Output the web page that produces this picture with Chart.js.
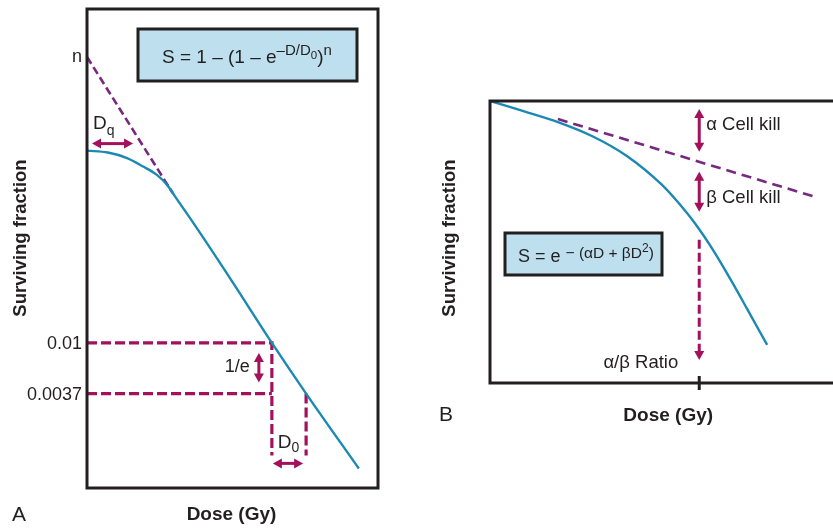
<!DOCTYPE html>
<html>
<head>
<meta charset="utf-8">
<script src="https://cdn.jsdelivr.net/npm/chart.js@4.4.1/dist/chart.umd.min.js"></script>
<style>
html, body { margin: 0; padding: 0; background: #fff; overflow: hidden; }
#wrap { position: relative; width: 833px; height: 529px; }
canvas { position: absolute; left: 0; top: 0; }
</style>
</head>
<body>
<div id="wrap">
  <canvas id="cellA" width="833" height="529"></canvas>
  <canvas id="cellB" width="833" height="529"></canvas>
</div>
<script>
// --- Panel A: multi-target model, surviving fraction (log) vs dose ---
const doseA = [0, 0.61, 1.17, 1.64, 2.04, 2.34, 2.57, 3.07, 4.2, 5.4, 6.4, 7.94];
const survA = [0.435, 0.419, 0.376, 0.318, 0.27, 0.222, 0.177, 0.109, 0.0348, 0.01, 0.0037, 0.00085];
// straight part extrapolated back to the axis (intercept = n)
const extrapDose = [0, 2.5];
const extrapSurv = [2.73, 0.19];
// 0.01 -> 0.0037 is a drop of 1/e, one D0 apart
const refSurv = [0.01, 0.0037];
const refDose = [5.4, 6.4];
const refFloor = 0.0011;
const tickLabelsA = ['0.01', '0.0037'];
const dq = 1.2;

// --- Panel B: linear-quadratic model, ln S vs dose ---
const doseB = [0, 1, 2, 3, 4, 5, 5.5, 6, 6.5, 7, 7.5, 8.08];
const lnSurvB = [0, -0.37, -0.76, -1.26, -1.96, -2.96, -3.62, -4.38, -5.28, -6.30, -7.38, -8.65];
const alphaDose = [1.98, 9.48];
const alphaLn = [-0.64, -3.40];
const abRatio = 6.1;

const FONT = "'Liberation Sans', Arial, Helvetica, sans-serif";
const BLUE = '#1c89b3';
const CRIMSON = '#a3105c';
const PURPLE = '#76297f';
const INK = '#231f20';
const BOXFILL = '#bddfee';

const pts = (xs, ys) => xs.map((x, i) => ({ x, y: ys[i] }));

function richText(ctx, x, y, parts) {
    let cx = x;
    parts.forEach(([t, size, rise]) => {
        ctx.font = size + 'px ' + FONT;
        ctx.fillText(t, cx, y - rise);
        cx += ctx.measureText(t).width;
    });
}

function head(ctx, x, y, ang) {
    const len = 9, half = 5;
    ctx.beginPath();
    ctx.moveTo(x, y);
    ctx.lineTo(x - len * Math.cos(ang) + half * Math.sin(ang), y - len * Math.sin(ang) - half * Math.cos(ang));
    ctx.lineTo(x - len * Math.cos(ang) - half * Math.sin(ang), y - len * Math.sin(ang) + half * Math.cos(ang));
    ctx.closePath();
    ctx.fill();
}

function arrow(ctx, x1, y1, x2, y2, both, dash) {
    const ang = Math.atan2(y2 - y1, x2 - x1);
    const c = Math.cos(ang), s = Math.sin(ang);
    ctx.save();
    ctx.strokeStyle = CRIMSON;
    ctx.fillStyle = CRIMSON;
    ctx.lineWidth = 3;
    ctx.setLineDash(dash || []);
    ctx.beginPath();
    ctx.moveTo(both ? x1 + c * 6 : x1, both ? y1 + s * 6 : y1);
    ctx.lineTo(x2 - c * 6, y2 - s * 6);
    ctx.stroke();
    ctx.setLineDash([]);
    head(ctx, x2, y2, ang);
    if (both) head(ctx, x1, y1, ang + Math.PI);
    ctx.restore();
}

function formulaBox(ctx, x, y, w, h) {
    ctx.fillStyle = BOXFILL;
    ctx.fillRect(x, y, w, h);
    ctx.strokeStyle = INK;
    ctx.lineWidth = 3;
    ctx.strokeRect(x, y, w, h);
}

function sideTitle(ctx, text, x, y) {
    ctx.save();
    ctx.translate(x, y);
    ctx.rotate(-Math.PI / 2);
    ctx.font = 'bold 18.5px ' + FONT;
    ctx.textAlign = 'center';
    ctx.fillStyle = INK;
    ctx.fillText(text, 0, 0);
    ctx.restore();
}

const baseOptions = (pad, xs, ys) => ({
    responsive: false,
    animation: false,
    devicePixelRatio: 1,
    layout: { padding: pad },
    plugins: { legend: { display: false }, tooltip: { enabled: false } },
    elements: { point: { radius: 0, hoverRadius: 0 } },
    scales: { x: xs, y: ys }
});

// ─── Panel A annotations ───
const annotateA = {
    id: 'annotateA',
    afterDraw(chart) {
        const { ctx, chartArea: a, scales: { x, y } } = chart;
        ctx.save();
        ctx.strokeStyle = INK;
        ctx.lineWidth = 3;
        ctx.strokeRect(a.left, a.top, a.right - a.left, a.bottom - a.top);

        formulaBox(ctx, a.left + 51, a.top + 20, 219, 52);
        ctx.fillStyle = INK;
        ctx.textAlign = 'left';
        richText(ctx, a.left + 75, a.top + 54, [
            ['S = 1 \u2013 (1 \u2013 e', 19, 0], ['\u2013D/D', 15, 8], ['0', 11.5, 4], [')', 19, 0], ['n', 15, 8]
        ]);

        // n intercept
        ctx.font = '18px ' + FONT;
        ctx.textAlign = 'right';
        ctx.fillText('n', x.getPixelForValue(0) - 5, y.getPixelForValue(extrapSurv[0]) + 5);

        // tick labels on the log axis
        tickLabelsA.forEach((t, i) => {
            ctx.fillText(t, a.left - 5, y.getPixelForValue(refSurv[i]) + 6);
        });

        // Dq
        const yDq = y.getPixelForValue(survA[0]) - 7;
        arrow(ctx, x.getPixelForValue(0) + 5, yDq, x.getPixelForValue(dq) + 5, yDq, true);
        ctx.fillStyle = INK;
        ctx.textAlign = 'left';
        richText(ctx, a.left + 6, yDq - 15, [['D', 19, 0], ['q', 14, -6]]);

        // 1/e
        const xE = x.getPixelForValue(refDose[0]) - 13;
        arrow(ctx, xE, y.getPixelForValue(refSurv[0]) + 10, xE, y.getPixelForValue(refSurv[1]) - 11, true);
        ctx.fillStyle = INK;
        ctx.font = '18px ' + FONT;
        ctx.textAlign = 'right';
        ctx.fillText('1/e', xE - 9, y.getPixelForValue(refSurv[0]) + 29);

        // D0
        const yD0 = y.getPixelForValue(refFloor) + 8;
        arrow(ctx, x.getPixelForValue(refDose[0]) + 1, yD0, x.getPixelForValue(refDose[1]) - 3, yD0, true);
        ctx.fillStyle = INK;
        ctx.textAlign = 'left';
        richText(ctx, x.getPixelForValue(refDose[0]) + 6, yD0 - 15, [['D', 19, 0], ['0', 14, -4]]);

        // titles
        sideTitle(ctx, 'Surviving fraction', 26, 238);
        ctx.fillStyle = INK;
        ctx.font = 'bold 19px ' + FONT;
        ctx.textAlign = 'center';
        ctx.fillText('Dose (Gy)', (a.left + a.right) / 2 - 1, 520);
        ctx.font = '21px ' + FONT;
        ctx.textAlign = 'left';
        ctx.fillText('A', 12, 521);
        ctx.restore();
    }
};

new Chart(document.getElementById('cellA'), {
    type: 'line',
    data: {
        datasets: [
            { data: pts(doseA, survA), borderColor: BLUE, borderWidth: 2.4, cubicInterpolationMode: 'monotone' },
            { data: pts(extrapDose, extrapSurv), borderColor: PURPLE, borderWidth: 2.6, borderDash: [8, 4] },
            { data: pts([0, refDose[0], refDose[0]], [refSurv[0], refSurv[0], refFloor]), borderColor: CRIMSON, borderWidth: 3.2, borderDash: [10, 4] },
            { data: pts([0, refDose[0]], [refSurv[1], refSurv[1]]), borderColor: CRIMSON, borderWidth: 3.2, borderDash: [10, 4] },
            { data: pts([refDose[1], refDose[1]], [refSurv[1], refFloor]), borderColor: CRIMSON, borderWidth: 3.2, borderDash: [10, 4] }
        ]
    },
    options: baseOptions(
        { left: 87, top: 9, right: 455, bottom: 41 },
        { type: 'linear', display: false, min: 0, max: 8.5 },
        { type: 'logarithmic', display: false, min: 0.00058, max: 7.0 }
    ),
    plugins: [annotateA]
});

// ─── Panel B annotations ───
const annotateB = {
    id: 'annotateB',
    afterDraw(chart) {
        const { ctx, chartArea: a, scales: { x, y } } = chart;
        ctx.save();
        ctx.strokeStyle = INK;
        ctx.lineWidth = 3;
        ctx.beginPath();
        ctx.moveTo(a.right + 2, a.top);
        ctx.lineTo(a.left, a.top);
        ctx.lineTo(a.left, a.bottom);
        ctx.lineTo(a.right + 2, a.bottom);
        ctx.stroke();

        const xr = x.getPixelForValue(abRatio);
        // dose tick at the alpha/beta ratio
        ctx.beginPath();
        ctx.moveTo(xr, a.bottom - 7);
        ctx.lineTo(xr, a.bottom + 7);
        ctx.stroke();

        const slope = (alphaLn[1] - alphaLn[0]) / (alphaDose[1] - alphaDose[0]);
        const yLine = y.getPixelForValue(alphaLn[0] + slope * (abRatio - alphaDose[0]));
        arrow(ctx, xr, a.top + 8, xr, yLine - 10, true);
        arrow(ctx, xr, yLine + 10, xr, yLine + 50, true);
        arrow(ctx, xr, yLine + 78, xr, a.bottom - 23, false, [9, 4]);

        ctx.fillStyle = INK;
        ctx.font = '18.5px ' + FONT;
        ctx.textAlign = 'left';
        ctx.fillText('\u03b1 Cell kill', xr + 7, a.top + 29);
        ctx.fillText('\u03b2 Cell kill', xr + 7, yLine + 41);
        ctx.textAlign = 'right';
        ctx.fillText('\u03b1/\u03b2 Ratio', xr - 21, a.bottom - 15);

        formulaBox(ctx, a.left + 15, a.top + 132, 157, 42);
        ctx.fillStyle = INK;
        ctx.textAlign = 'left';
        richText(ctx, a.left + 28, a.top + 161, [
            ['S = e ', 18, 0], ['\u2212 (\u03b1D + \u03b2D', 15.5, 4], ['2', 12, 10], [')', 15.5, 4]
        ]);

        sideTitle(ctx, 'Surviving fraction', 455, 238);
        ctx.fillStyle = INK;
        ctx.font = 'bold 19px ' + FONT;
        ctx.textAlign = 'center';
        ctx.fillText('Dose (Gy)', xr - 31, 421);
        ctx.font = '21px ' + FONT;
        ctx.textAlign = 'left';
        ctx.fillText('B', 439, 421);
        ctx.restore();
    }
};

new Chart(document.getElementById('cellB'), {
    type: 'line',
    data: {
        datasets: [
            { data: pts(doseB, lnSurvB), borderColor: BLUE, borderWidth: 2.4, cubicInterpolationMode: 'monotone' },
            { data: pts(alphaDose, alphaLn), borderColor: PURPLE, borderWidth: 2.6, borderDash: [10, 6] }
        ]
    },
    options: baseOptions(
        { left: 490, top: 101, right: 0, bottom: 146 },
        { type: 'linear', display: false, min: 0, max: 10 },
        { type: 'linear', display: false, min: -10, max: 0 }
    ),
    plugins: [annotateB]
});
</script>
</body>
</html>
